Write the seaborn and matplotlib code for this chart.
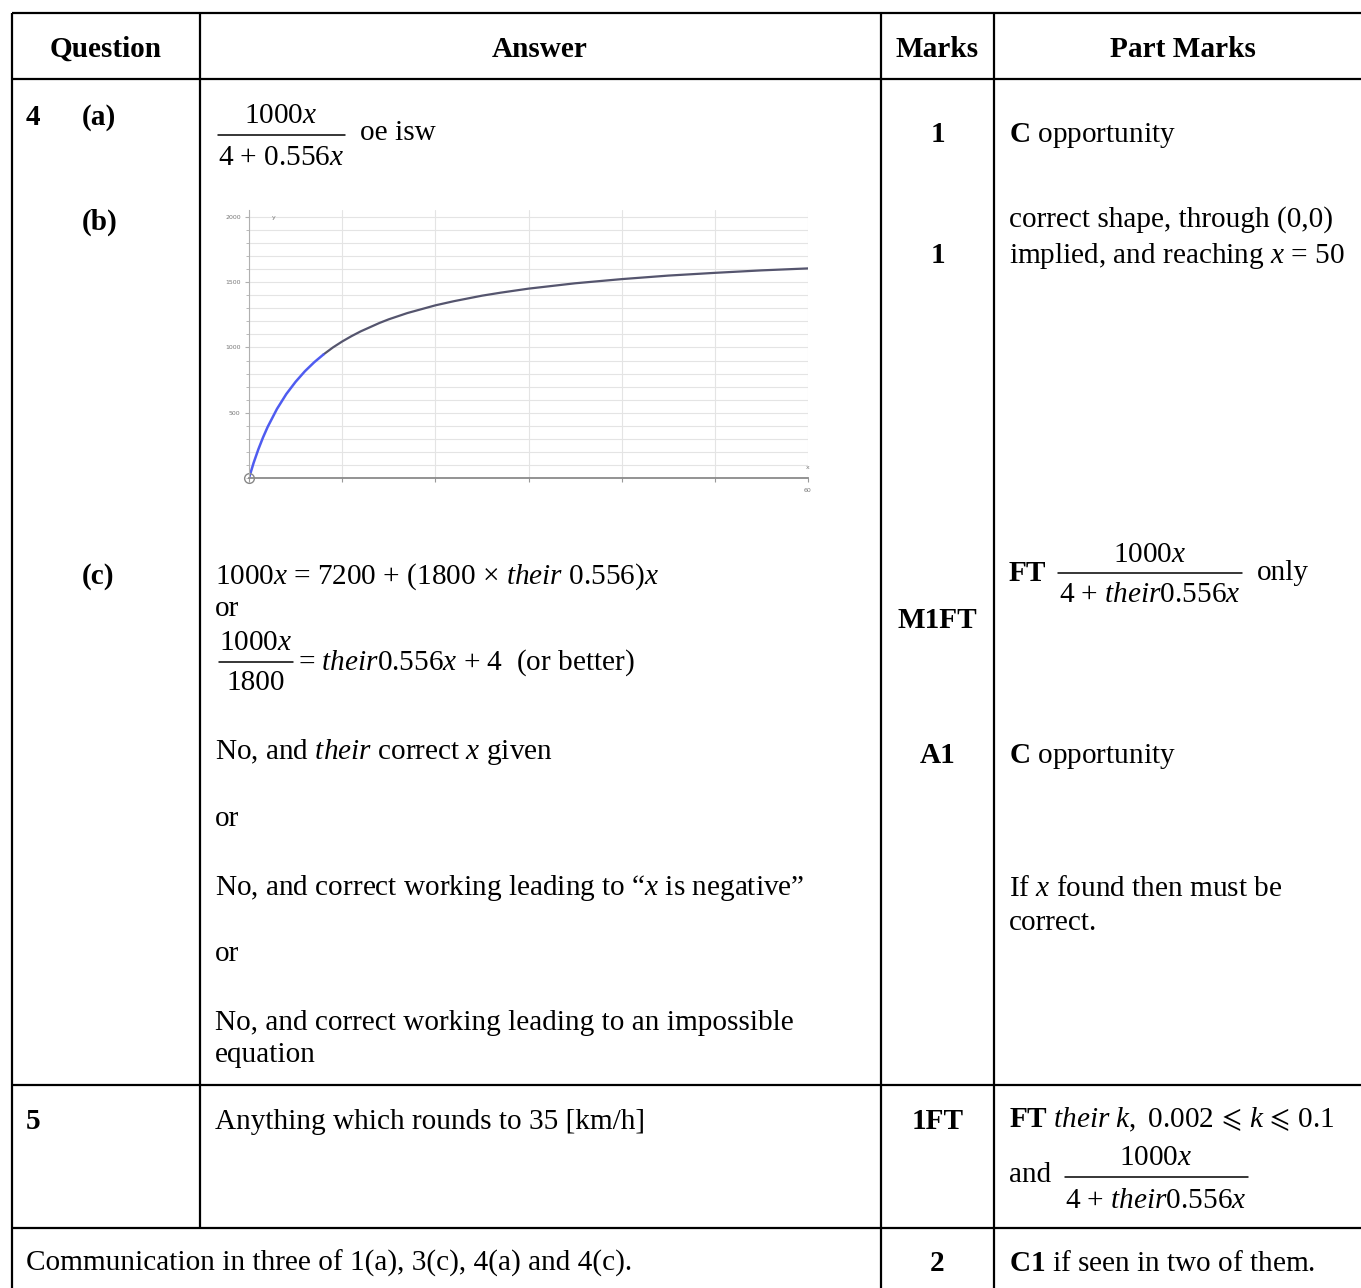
import matplotlib
matplotlib.use("Agg")
import matplotlib.pyplot as plt
import seaborn as sns
import numpy as np
import pandas as pd

# ---------------- data ----------------
headers = ["Question", "Answer", "Marks", "Part Marks"]
# points of the sketched curve (x, y)
curve_x = [0, 0.5, 1, 1.5, 2, 3, 4, 5, 6, 7, 8, 9, 10, 11, 12, 14, 15, 17, 20, 22, 25, 27,
           30, 35, 40, 45, 50, 55, 60]
curve_y = [0, 117, 219, 310, 391, 529, 643, 737, 818, 887, 947, 1000, 1046, 1087, 1124,
           1188, 1216, 1264, 1323, 1355, 1397, 1420, 1451, 1492, 1524, 1551, 1572, 1591, 1606]
blue_until = 8
x_ticks = [0, 10, 20, 30, 40, 50, 60]
x_ticklabels = ["", "", "", "", "", "", "60"]
y_major = [500, 1000, 1500, 2000]
y_minor = list(range(0, 2001, 100))

# ---------------- style ----------------
sns.set_style("white")
plt.rcParams["font.family"] = ["Liberation Serif", "DejaVu Serif"]
plt.rcParams["mathtext.fontset"] = "custom"
plt.rcParams["mathtext.rm"] = "Liberation Serif"
plt.rcParams["mathtext.it"] = "Liberation Serif:italic"
plt.rcParams["mathtext.bf"] = "Liberation Serif:bold"
plt.rcParams["mathtext.fallback"] = "stix"
plt.rcParams["text.color"] = "black"

W, H = 1361, 1288
fig = plt.figure(figsize=(W / 100, H / 100), dpi=100)
ax = fig.add_axes([0, 0, 1, 1])
ax.set_xlim(0, W)
ax.set_ylim(H, 0)
ax.axis("off")

FS = 21.1
LW = 1.6

def hline(y, x0, x1):
    ax.plot([x0, x1], [y, y], color="black", lw=LW, solid_capstyle="butt")

def vline(x, y0, y1):
    ax.plot([x, x], [y0, y1], color="black", lw=LW, solid_capstyle="butt")

def T(x, y, s, ha="left", bold=False):
    ax.text(x, y, s, ha=ha, va="baseline", fontsize=FS, color="black",
            fontweight="bold" if bold else "normal")

def frac(cx, num, den, yn, yb, yd, x0, x1):
    T(cx, yn, num, ha="center")
    ax.plot([x0, x1], [yb, yb], color="black", lw=1.1)
    T(cx, yd, den, ha="center")

# ---------------- grid lines of table ----------------
hline(13, 12, W)
hline(79, 12, W)
hline(1085, 12, W)
hline(1228, 12, W)
vline(12, 13, H)
vline(200, 13, 1228)
vline(881, 13, H)
vline(994, 13, H)

# ---------------- header ----------------
T(106, 57, headers[0], ha="center", bold=True)
T(540, 57, headers[1], ha="center", bold=True)
T(937.5, 57, headers[2], ha="center", bold=True)
T(1183, 57, headers[3], ha="center", bold=True)

# ---------------- question 4 ----------------
T(26, 125, "4", bold=True)
T(82, 125, "(a)", bold=True)
frac(281, r"1000$x$", r"4 + 0.556$x$", 123, 135, 165, 218, 345)
T(360, 140, "oe isw")
T(937.5, 142, "1", ha="center", bold=True)
T(1009, 142, r"$\mathbf{C}$ opportunity")

T(82, 230, "(b)", bold=True)
T(937.5, 263, "1", ha="center", bold=True)
T(1009, 227, "correct shape, through (0,0)")
T(1009, 263, r"implied, and reaching $x$ = 50")

T(82, 584, "(c)", bold=True)
T(215, 584, r"1000$x$ = 7200 + (1800 × $their$ 0.556)$x$")
T(215, 616, "or")
frac(256, r"1000$x$", "1800", 650, 662, 690, 219, 293)
T(298, 670, r"= $their$0.556$x$ + 4  (or better)")
T(215, 759, r"No, and $their$ correct $x$ given")
T(215, 826, "or")
T(215, 895, r"No, and correct working leading to “$x$ is negative”")
T(215, 961, "or")
T(215, 1030, "No, and correct working leading to an impossible")
T(215, 1062, "equation")

T(937.5, 628, "M1FT", ha="center", bold=True)
T(937.5, 763, "A1", ha="center", bold=True)

T(1009, 581, "FT", bold=True)
frac(1150, r"1000$x$", r"4 + $their$0.556$x$", 562, 573, 602, 1058, 1242)
T(1257, 580, "only")
T(1009, 763, r"$\mathbf{C}$ opportunity")
T(1009, 896, r"If $x$ found then must be")
T(1009, 930, "correct.")

# ---------------- question 5 ----------------
T(26, 1129, "5", bold=True)
T(215, 1129, "Anything which rounds to 35 [km/h]")
T(937.5, 1129, "1FT", ha="center", bold=True)
T(1009, 1127, r"$\mathbf{FT}$ $their\ k,$ $0.002\,\leqslant\,k\,\leqslant\,0.1$")
T(1009, 1182, "and")
frac(1156, r"1000$x$", r"4 + $their$0.556$x$", 1165, 1177, 1208, 1065, 1248)

# ---------------- communication ----------------
T(26, 1271, "Communication in three of 1(a), 3(c), 4(a) and 4(c).")
T(937.5, 1271, "2", ha="center", bold=True)
T(1009, 1271, r"$\mathbf{C1}$ if seen in two of them.")

# ---------------- embedded graph ----------------
px_per_unit_y = 0.1305
ymax = 2050
left_px, right_px, zero_px = 249, 808, 478
top_px = zero_px - ymax * px_per_unit_y
axc = fig.add_axes([left_px / W, (H - zero_px) / H, (right_px - left_px) / W,
                    (zero_px - top_px) / H])
axc.set_xlim(0, 60)
axc.set_ylim(0, ymax)

xs = np.array(curve_x, dtype=float)
ys = np.array(curve_y, dtype=float)
mb = xs <= blue_until
md = xs >= blue_until
sns.lineplot(x=xs[md], y=ys[md], ax=axc, color="#55556e", lw=1.6, sort=False)
sns.lineplot(x=xs[mb], y=ys[mb], ax=axc, color="#4f5cf0", lw=1.8, sort=False)

axc.set_xticks(x_ticks)
axc.set_xticklabels(x_ticklabels)
axc.set_yticks(y_major)
axc.set_yticklabels([str(v) for v in y_major])
axc.set_yticks(y_minor, minor=True)
axc.grid(True, which="both", color="#e4e4e4", lw=0.8)
axc.set_axisbelow(True)
for s in ["top", "right"]:
    axc.spines[s].set_visible(False)
axc.spines["left"].set_color("#b0b0b0")
axc.spines["bottom"].set_color("#8a8a8a")
axc.spines["bottom"].set_linewidth(1.3)
axc.tick_params(axis="y", which="major", labelsize=4.5, labelcolor="#777777",
                length=3, color="#b0b0b0", pad=3, left=True)
axc.tick_params(axis="y", which="minor", length=2, color="#b0b0b0", left=True)
axc.tick_params(axis="x", labelsize=4.5, labelcolor="#777777", length=3,
                color="#999999", pad=4, bottom=True)
for lab in axc.get_yticklabels() + axc.get_xticklabels():
    lab.set_family("DejaVu Sans")
axc.text(2.5, 2000, "y", fontsize=4.5, color="#777777", va="center", family="DejaVu Sans")
axc.text(60, 60, "x", fontsize=4.5, color="#777777", ha="center", va="bottom",
         family="DejaVu Sans")
axc.plot([0], [0], marker="o", mfc="none", mec="#888888", ms=7, mew=1.0, clip_on=False)
axc.set_xlabel("")
axc.set_ylabel("")

fig.savefig("out.png", dpi=100)
